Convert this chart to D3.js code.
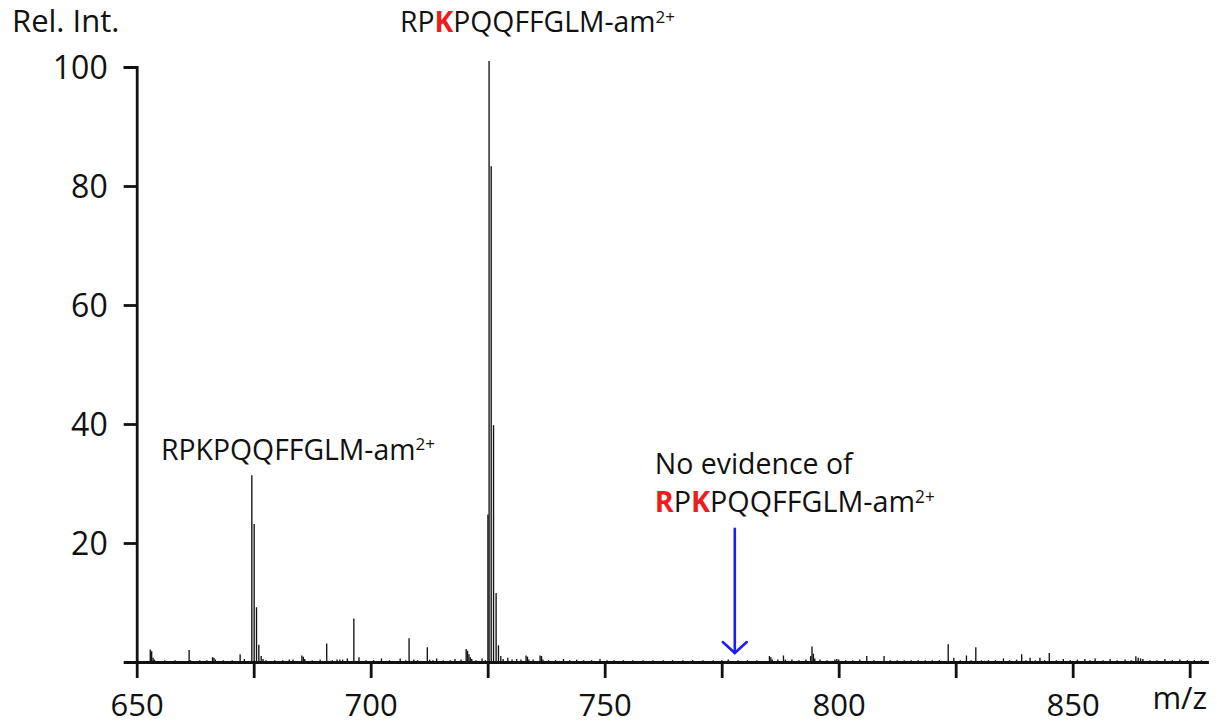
<!DOCTYPE html>
<html>
<head>
<meta charset="utf-8">
<script src="https://cdn.jsdelivr.net/npm/d3@7"></script>
<style>
  html, body { margin: 0; padding: 0; background: #fff; }
  svg { display: block; }
  text { font-family: "Open Sans", "Noto Sans", sans-serif; fill: #111; }
</style>
</head>
<body>
<script>
// Mass spectrum (m/z vs relative intensity), centroid sticks.
const peakMz = [
  652.9, 653.2, 653.5, 653.8, 656.0, 658.2, 661.2, 661.5, 663.5, 665.0,
  666.2, 666.5, 666.8, 668.5, 670.4, 672.1, 673.0,
  674.6, 675.1, 675.6, 676.1, 676.6, 677.0, 677.6,
  679.5, 681.2, 682.6, 683.4, 685.3, 685.6, 685.9, 687.5, 689.2, 690.6,
  691.8, 692.8, 693.4, 694.0, 695.0, 696.4, 697.5, 699.0, 700.6, 702.3,
  704.0, 706.3, 707.5, 708.2, 709.2, 710.0, 712.1, 712.6, 713.3, 714.1,
  715.5, 717.0, 718.0, 719.3, 720.4, 720.7, 721.0, 721.3, 721.6, 722.5,
  723.8, 724.5,
  725.05, 725.3, 725.75, 726.25, 726.8, 727.3, 727.8, 728.3,
  729.3, 730.2, 731.2, 732.1, 733.2, 733.5, 733.8, 734.7, 736.2, 736.5,
  736.8, 738.0, 739.5, 741.2, 742.5, 744.0, 745.5, 747.2, 749.0, 750.5,
  752.0, 754.0, 756.0, 758.2, 760.3, 762.5, 764.5, 766.7, 768.8, 771.0,
  773.2, 775.0, 776.4, 778.5, 780.5, 782.5, 785.2, 785.5, 785.8, 787.0,
  788.2, 788.6, 790.0, 791.5, 793.0, 794.0, 794.3, 794.6, 794.9, 796.0,
  797.5, 799.2, 799.6, 800.0, 801.5, 803.0, 804.5, 806.0, 807.5, 809.7,
  811.0, 812.5, 814.0, 815.5, 817.0, 818.5, 820.0, 821.5, 823.4, 824.6,
  826.0, 827.3, 828.3, 829.3, 830.5, 832.0, 833.5, 835.2, 836.5, 838.0,
  839.1, 840.0, 840.9, 842.0, 843.0, 844.0, 845.0, 846.5, 848.0, 849.5,
  851.0, 852.6, 853.7, 854.8, 856.5, 858.0, 859.5, 861.2, 862.5, 863.5,
  864.0, 864.5, 865.0, 866.5, 868.0, 869.7, 871.3, 872.9, 874.5, 876.0,
  877.5
];
const peakIntensity = [
  2.1, 1.8, 0.7, 0.4, 0.3, 0.3, 2.0, 0.3, 0.3, 0.3,
  0.8, 0.7, 0.4, 0.3, 0.3, 1.3, 0.5,
  31.4, 23.2, 9.2, 2.9, 1.0, 0.5, 0.3,
  0.3, 0.3, 0.4, 0.4, 1.1, 0.9, 0.5, 0.3, 0.4, 3.1,
  0.3, 0.4, 0.4, 0.4, 0.6, 7.3, 0.8, 0.3, 0.3, 0.6,
  0.3, 0.6, 0.3, 4.0, 0.4, 0.3, 2.5, 0.4, 0.3, 0.6,
  0.3, 0.3, 0.5, 0.4, 2.2, 1.9, 1.3, 0.8, 0.5, 0.3,
  0.6, 0.3,
  24.8, 101.0, 83.3, 39.8, 11.6, 2.8, 1.0, 0.5,
  0.7, 0.4, 0.5, 0.4, 1.1, 0.9, 0.4, 0.4, 1.1, 1.0,
  0.4, 0.3, 0.3, 0.5, 0.3, 0.4, 0.3, 0.3, 0.5, 0.3,
  0.3, 0.3, 0.3, 0.3, 0.3, 0.3, 0.3, 0.3, 0.3, 0.3,
  0.3, 0.3, 0.4, 0.3, 0.3, 0.3, 1.0, 0.8, 0.4, 0.4,
  1.1, 0.4, 0.4, 0.3, 0.4, 1.0, 2.6, 1.4, 0.6, 0.4,
  0.3, 0.4, 0.5, 0.4, 0.3, 0.3, 0.4, 1.0, 0.3, 1.0,
  0.3, 0.3, 0.3, 0.3, 0.3, 0.3, 0.3, 0.3, 3.0, 0.7,
  0.3, 1.1, 0.3, 2.5, 0.3, 0.3, 0.3, 0.6, 0.3, 0.4,
  1.3, 0.3, 0.7, 0.3, 0.7, 0.3, 1.5, 0.3, 0.5, 0.3,
  0.4, 0.5, 0.3, 0.6, 0.3, 0.5, 0.3, 0.4, 0.3, 0.95,
  0.7, 0.6, 0.5, 0.3, 0.3, 0.5, 0.3, 0.4, 0.3, 0.3,
  0.3
];

// Axis ticks
const xTickValues = [650, 675, 700, 725, 750, 775, 800, 825, 850, 875];
const xTickLabels = [650, 700, 750, 800, 850];
const yTickValues = [20, 40, 60, 80, 100];

// Peptide annotations: segments flagged as modified residues are drawn bold red
const peptideTop = [["RP", false], ["K", true], ["PQQFFGLM-am", false]];
const peptideLeft = [["RPKPQQFFGLM-am", false]];
const peptideMissing = [["R", true], ["P", false], ["K", true], ["PQQFFGLM-am", false]];
const chargeState = "2+";
const missingNote = "No evidence of";
const missingMz = 777.8;

const W = 1217, H = 725;
const svg = d3.select("body").append("svg").attr("width", W).attr("height", H);

const x = d3.scaleLinear().domain([650, 879]).range([136.7, 1208.4]);
const y = d3.scaleLinear().domain([0, 100]).range([662, 67]);

// Peak sticks
svg.append("g")
  .selectAll("line")
  .data(peakMz.map((m, i) => [m, peakIntensity[i]]))
  .join("line")
  .attr("x1", d => x(d[0])).attr("x2", d => x(d[0]))
  .attr("y1", y(0)).attr("y2", d => y(d[1]))
  .attr("stroke", "#111").attr("stroke-width", 1.35);

// X axis
const xAxis = svg.append("g").attr("transform", `translate(0,${y(0)})`)
  .call(d3.axisBottom(x).tickValues(xTickValues).tickSize(16).tickSizeOuter(0)
    .tickFormat(d => xTickLabels.includes(d) ? d : ""));
xAxis.selectAll("path, line").attr("stroke", "#111").attr("stroke-width", 2.8);
xAxis.selectAll("text").attr("dy", null).attr("y", 54)
  .style("font-size", "31px").attr("fill", "#111");

// Y axis (outer ticks give the short stubs at 0 and 100)
const yAxis = svg.append("g").attr("transform", `translate(${x(650)},0)`)
  .call(d3.axisLeft(y).tickValues(yTickValues).tickSize(13).tickSizeOuter(13).tickPadding(16));
yAxis.selectAll("path, line").attr("stroke", "#111").attr("stroke-width", 2.8);
yAxis.selectAll("text").attr("dy", "0.36em")
  .style("font-size", "32px").attr("fill", "#111");
yAxis.selectAll(".domain").attr("fill", "none");

// Axis titles
svg.append("text").attr("x", 12).attr("y", 32).style("font-size", "31px").text("Rel. Int.");
svg.append("text").attr("x", 1207).attr("y", 709).attr("text-anchor", "end")
  .style("font-size", "31px").text("m/z");

// Peptide label with bold-red residues and a superscript charge
function peptideLabel(segments, px, py, targetWidth) {
  const t = svg.append("text").attr("x", px).attr("y", py).style("font-size", "26px");
  segments.forEach(([s, mod]) => {
    const ts = t.append("tspan").text(s);
    if (mod) ts.attr("fill", "#ee1d1d").style("font-weight", 700).style("fill", "#ee1d1d");
  });
  t.append("tspan").text(chargeState).style("font-size", "0.6em").attr("dy", "-0.55em");
  const w = t.node().getComputedTextLength();
  t.style("font-size", (26 * targetWidth / w).toFixed(2) + "px");
  return t;
}

peptideLabel(peptideTop, x(706.26), y(105.9), 275);
peptideLabel(peptideLeft, x(655.2), y(34.0), 274);

const note = svg.append("text").attr("x", x(760.7)).attr("y", y(31.6)).style("font-size", "26px").text(missingNote);
note.style("font-size", (26 * 198 / note.node().getComputedTextLength()).toFixed(2) + "px");
peptideLabel(peptideMissing, x(760.7), y(25.2), 280);

// Arrow marking where the doubly modified species would appear
const ax = x(missingMz), aTop = y(22.4), aTip = y(1.5);
const arrow = svg.append("g").attr("stroke", "#1c1cf5").attr("stroke-width", 2.6)
  .attr("fill", "none").attr("stroke-linecap", "round").attr("stroke-linejoin", "round");
arrow.append("line").attr("x1", ax).attr("x2", ax).attr("y1", aTop).attr("y2", aTip);
arrow.append("path").attr("d", `M${ax - 12},${aTip - 11} L${ax},${aTip} L${ax + 12},${aTip - 11}`);
</script>
</body>
</html>
